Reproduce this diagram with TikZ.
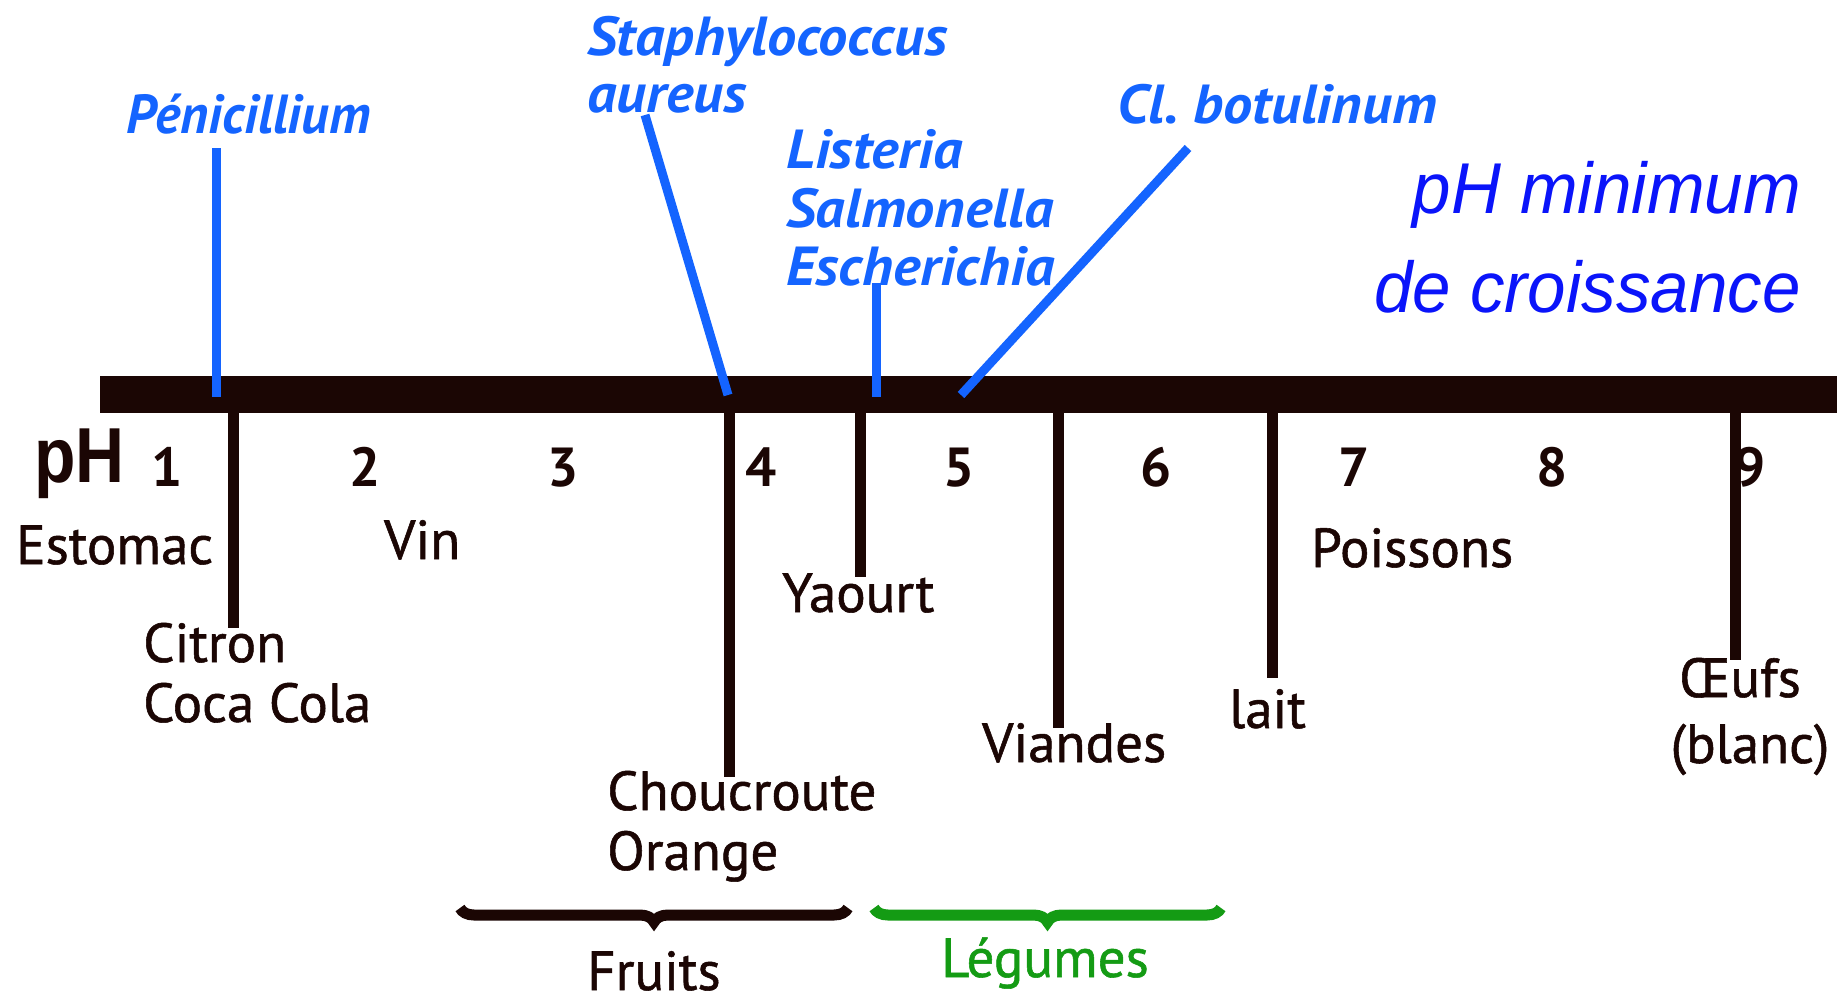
\documentclass[tikz,border=0pt]{standalone}
\usepackage{fontspec}
\usetikzlibrary{decorations.pathreplacing}
\newfontfamily\labfont[FakeBold=1]{PT Sans}
\newfontfamily\numfont{PT Sans}
\newfontfamily\bugfont[FakeStretch=1.06]{PT Sans}
\newfontfamily\penifont[FakeStretch=0.98]{PT Sans}
\newfontfamily\phfont[FakeStretch=0.87]{Liberation Sans}
\newfontfamily\titfont[FakeStretch=0.96]{Liberation Sans}
\definecolor{ink}{RGB}{27,6,4}
\definecolor{microbe}{RGB}{20,100,255}
\definecolor{titleblue}{RGB}{10,20,250}
\definecolor{veg}{RGB}{20,155,20}
\begin{document}
\begin{tikzpicture}[x=1pt,y=-1pt,
  lab/.style={font=\labfont\fontsize{55}{60}\selectfont, text=ink, inner sep=0pt, anchor=base west},
  num/.style={font=\numfont\bfseries\fontsize{55}{60}\selectfont, text=ink, inner sep=0pt, anchor=base},
  bug/.style={font=\bugfont\bfseries\itshape\fontsize{55}{60}\selectfont, text=microbe, inner sep=0pt, anchor=base west},
  tit/.style={font=\titfont\itshape\fontsize{72}{80}\selectfont, text=titleblue, inner sep=0pt, anchor=base east},
  tick/.style={draw=ink, line width=11pt},
  bugline/.style={draw=microbe, line width=9pt},
  bracestyle/.style={line width=11pt, decorate, decoration={brace, amplitude=14pt, mirror}},
]
\useasboundingbox (0,0) rectangle (1843,1002);
\fill[white] (0,0) rectangle (1843,1002);

% bar
\node[fill=ink, inner sep=0pt, minimum width=1737pt, minimum height=37pt] (bar) at (968.5,394.5) {};

% pH scale
\node[font=\phfont\bfseries\fontsize{78}{80}\selectfont, text=ink, inner sep=0pt, anchor=base west] (ph) at (34,482) {pH};
\foreach \n in {1,...,9} {
  \node[num] (n\n) at ({167+197.9*(\n-1)},486) {\n};
}

% food tick coordinates
\coordinate (tCit) at (233,413);   \coordinate (eCit) at (233,628);
\coordinate (tCho) at (729,413);   \coordinate (eCho) at (729,777);
\coordinate (tYao) at (860,413);   \coordinate (eYao) at (860,577);
\coordinate (tVia) at (1058,413);  \coordinate (eVia) at (1058,728);
\coordinate (tLai) at (1272,413);  \coordinate (eLai) at (1272,678);
\coordinate (tOeu) at (1735,413);  \coordinate (eOeu) at (1735,660);
\foreach \a/\b in {tCit/eCit,tCho/eCho,tYao/eYao,tVia/eVia,tLai/eLai,tOeu/eOeu}
  \draw[tick] (\a) -- (\b);

% food labels
\node[lab] (estomac) at (16,564) {Estomac};
\node[lab] (vin) at (384,559) {Vin};
\node[lab] (citron) at (143,662) {Citron};
\node[lab] (coca) at (143,722) {Coca Cola};
\node[lab] (chou) at (607,810) {Choucroute};
\node[lab] (orange) at (607,870) {Orange};
\node[lab] (yaourt) at (782,612) {Yaourt};
\node[lab] (viandes) at (982,762) {Viandes};
\node[lab] (lait) at (1229,728) {lait};
\node[lab] (poissons) at (1311,567) {Poissons};
\node[lab, anchor=base] (oeufs) at (1740,697) {Œufs};
\node[lab, anchor=base] (blanc) at (1750,763) {(blanc)};

% braces
\coordinate (fA) at (460,908); \coordinate (fB) at (848,908);
\draw[ink, bracestyle] (fA) -- (fB);
\node[lab, anchor=base] (fruits) at (654,990) {Fruits};
\coordinate (lA) at (874,908); \coordinate (lB) at (1221,908);
\draw[veg, bracestyle] (lA) -- (lB);
\node[lab, anchor=base, text=veg] (legumes) at (1045,977) {Légumes};

% microbes
\node[bug, font=\penifont\bfseries\itshape\fontsize{55}{60}\selectfont] (peni) at (126,133) {Pénicillium};
\node[bug] (staph) at (587,55) {Staphylococcus};
\node[bug] (aureus) at (587,112) {aureus};
\node[bug] (list) at (786,168) {Listeria};
\node[bug] (salm) at (786,227) {Salmonella};
\node[bug] (esch) at (786,285) {Escherichia};
\node[bug] (clbot) at (1117,123) {Cl.\ botulinum};

\coordinate (pTop) at (216,148);  \coordinate (pBot) at (216,397);
\coordinate (sTop) at (645,115);  \coordinate (sBot) at (728,395);
\coordinate (lTop) at (876,283);  \coordinate (lBot) at (876,397);
\coordinate (cTop) at (1188,148); \coordinate (cBot) at (961,395);
\foreach \a/\b in {pTop/pBot,sTop/sBot,lTop/lBot,cTop/cBot}
  \draw[bugline] (\a) -- (\b);

% title
\node[tit] (tit1) at (1801,213) {pH minimum};
\node[tit] (tit2) at (1801,312) {de croissance};
\end{tikzpicture}
\end{document}
